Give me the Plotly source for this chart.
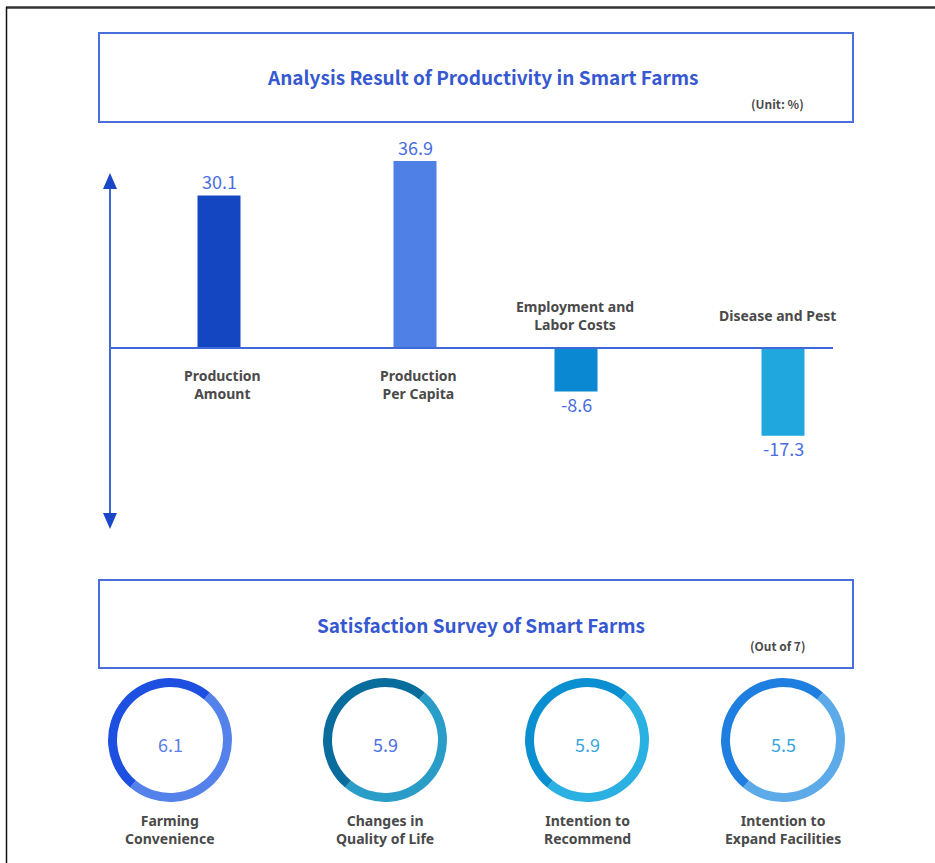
import plotly.graph_objects as go

# ---- productivity change (unit: %) ----
bar_labels = ["Production<br>Amount", "Production<br>Per Capita",
              "Employment and<br>Labor Costs", "Disease and Pest"]
bar_values = [30.1, 36.9, -8.6, -17.3]
bar_colors = ["#1546c2", "#4f80e6", "#0a88d2", "#20a8de"]
bar_slots = [219, 415, 576, 783]          # horizontal slot of each bar

# ---- satisfaction survey (out of 7) ----
survey_labels = ["Farming<br>Convenience", "Changes in<br>Quality of Life",
                 "Intention to<br>Recommend", "Intention to<br>Expand Facilities"]
survey_scores = [6.1, 5.9, 5.9, 5.5]
ring_colors = [("#1d4fe0", "#5582ea"), ("#086c9c", "#2a9cc8"),
               ("#0a8fd0", "#2bb0e2"), ("#1e7fe0", "#5caae8")]
score_colors = ["#5b7ee8", "#4d72e0", "#3aa6e0", "#3aa6e0"]
ring_centers = [170, 385, 587, 783]

W, H = 935, 863
FONT = "Noto Sans CJK KR"
BLUE = "#3658d0"
GREY = "#4a4a4a"


def px(x):
    return x / W


def py(y):
    return 1 - y / H


def label(text, x, y, size, color, family=FONT, **kw):
    d = dict(text=text, x=px(x), y=py(y), xref="paper", yref="paper", showarrow=False,
             xanchor="center", yanchor="middle",
             font=dict(family=family, size=size, color=color))
    d.update(kw)
    return d


fig = go.Figure()

# bar plot area: baseline at y=348 px, 5.07 px per percent
top_px, bot_px, base_px, k = 150, 520, 348, 5.07
fig.add_trace(go.Bar(
    x=bar_slots, y=bar_values, width=43,
    marker=dict(color=bar_colors, line=dict(width=0)),
    hoverinfo="skip", showlegend=False,
))

fig.update_layout(
    width=W, height=H, margin=dict(l=0, r=0, t=0, b=0),
    paper_bgcolor="white", plot_bgcolor="white",
    xaxis=dict(range=[0, W], domain=[0, 1], visible=False, fixedrange=True),
    yaxis=dict(range=[-(bot_px - base_px) / k, (base_px - top_px) / k],
               domain=[py(bot_px), py(top_px)], visible=False, fixedrange=True),
    showlegend=False,
)

shapes = []
ann = []

# outer frame (top and left edges)
shapes.append(dict(type="line", xref="paper", yref="paper",
                   x0=px(6), x1=1, y0=py(7.5), y1=py(7.5),
                   line=dict(color="#333333", width=2.5)))
shapes.append(dict(type="line", xref="paper", yref="paper",
                   x0=px(6.5), x1=px(6.5), y0=py(7), y1=0,
                   line=dict(color="#111111", width=1.5)))

# title boxes
for (y0, y1) in [(33, 122), (580, 668)]:
    shapes.append(dict(type="rect", xref="paper", yref="paper",
                       x0=px(99), x1=px(853), y0=py(y0), y1=py(y1),
                       line=dict(color="#4a6fdd", width=2), fillcolor="rgba(0,0,0,0)"))

# baseline and vertical double arrow
shapes.append(dict(type="line", xref="x", yref="y", x0=110, x1=833, y0=0, y1=0,
                   line=dict(color="#3f68da", width=2), layer="above"))
shapes.append(dict(type="line", xref="paper", yref="paper",
                   x0=px(110), x1=px(110), y0=py(186), y1=py(514),
                   line=dict(color="#3f68da", width=2)))
shapes.append(dict(type="path", xref="paper", yref="paper",
                   path=f"M {px(110)} {py(173)} L {px(103)} {py(189)} L {px(117)} {py(189)} Z",
                   fillcolor="#1a46c8", line=dict(width=0)))
shapes.append(dict(type="path", xref="paper", yref="paper",
                   path=f"M {px(110)} {py(529)} L {px(103)} {py(513)} L {px(117)} {py(513)} Z",
                   fillcolor="#1a46c8", line=dict(width=0)))

# titles
ann.append(label("<b>Analysis Result of Productivity in Smart Farms</b>", 482, 77, 19, BLUE))
ann.append(label("<b>(Unit: %)</b>", 777, 104, 12, GREY))
ann.append(label("<b>Satisfaction Survey of Smart Farms</b>", 481, 624, 19, BLUE))
ann.append(label("<b>(Out of 7)</b>", 777, 645, 12, GREY))

# bar value labels and category labels
for xs, v, lab in zip(bar_slots, bar_values, bar_labels):
    ann.append(dict(text=f"{v:.1f}", x=xs, y=v, xref="x", yref="y",
                    showarrow=False, xanchor="center",
                    yanchor="bottom" if v > 0 else "top",
                    yshift=-1 if v > 0 else 3,
                    font=dict(family=FONT, size=18, color="#4a6ee0")))
    if v > 0:
        ann.append(dict(text=f"<b>{lab}</b>", x=xs + 3, y=0, xref="x", yref="y",
                        showarrow=False, xanchor="center", yanchor="top", yshift=-16,
                        font=dict(family="Noto Sans", size=14, color=GREY)))
    else:
        ann.append(dict(text=f"<b>{lab}</b>", x=xs - 1 if "<br>" in lab else xs - 6,
                        y=0, xref="x", yref="y",
                        showarrow=False, xanchor="center", yanchor="bottom",
                        yshift=12 if "<br>" in lab else 21,
                        font=dict(family="Noto Sans", size=14, color=GREY)))

# satisfaction rings: darker half on the left, lighter half on the right
ring_d, ring_cy = 124, 740
for cx, score, lab, (c_dark, c_light), sc in zip(ring_centers, survey_scores,
                                                  survey_labels, ring_colors, score_colors):
    fig.add_trace(go.Pie(
        values=[1, 1], labels=["a", "b"], sort=False, direction="counterclockwise",
        rotation=40, hole=0.855, textinfo="none", hoverinfo="skip",
        marker=dict(colors=[c_light, c_dark], line=dict(width=0)),
        domain=dict(x=[px(cx - ring_d / 2), px(cx + ring_d / 2)],
                    y=[py(ring_cy + ring_d / 2), py(ring_cy - ring_d / 2)]),
        showlegend=False,
    ))
    ann.append(label(f"{score:.1f}", cx, ring_cy + 4, 18, sc))
    ann.append(label(f"<b>{lab}</b>", cx, 809, 14, GREY, family="Noto Sans",
                     yanchor="top"))

fig.update_layout(shapes=shapes, annotations=ann)
fig.write_html("out.html")
